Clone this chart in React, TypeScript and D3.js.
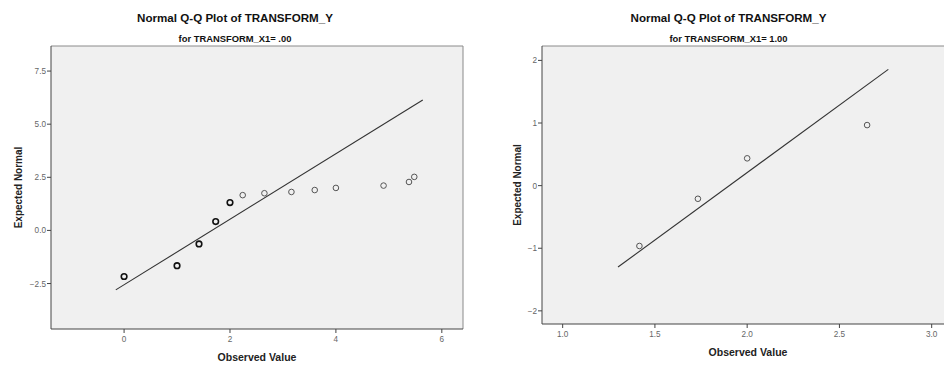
import React from 'react';
import * as d3 from 'd3';

const width = 944;
const height = 365;

// left panel: TRANSFORM_X1 = .00
const leftObserved = [0, 1.0, 1.415, 1.73, 2.0, 2.24, 2.65, 3.16, 3.6, 4.0, 4.9, 5.38, 5.48];
const leftExpected = [-2.17, -1.66, -0.635, 0.414, 1.31, 1.66, 1.75, 1.81, 1.9, 2.0, 2.11, 2.28, 2.52];
const leftHeavy = [true, true, true, true, true, false, false, false, false, false, false, false, false];
const leftLineX = [-0.157, 5.64];
const leftLineY = [-2.8, 6.14];
const leftXTicks = [0, 2, 4, 6];
const leftYTicks = [-2.5, 0, 2.5, 5, 7.5];

// right panel: TRANSFORM_X1 = 1.00
const rightObserved = [1.416, 1.733, 2.0, 2.65];
const rightExpected = [-0.964, -0.21, 0.436, 0.967];
const rightHeavy = [false, false, false, false];
const rightLineX = [1.3, 2.765];
const rightLineY = [-1.3, 1.856];
const rightXTicks = [1.0, 1.5, 2.0, 2.5, 3.0];
const rightYTicks = [-2, -1, 0, 1, 2];

const font = '"Liberation Sans", Arial, sans-serif';

type PanelProps = {
  frame: { x: number; y: number; w: number; h: number };
  xDomain: [number, number];
  yDomain: [number, number];
  observed: number[];
  expected: number[];
  heavy: boolean[];
  lineX: number[];
  lineY: number[];
  xTicks: number[];
  yTicks: number[];
  xFmt: (v: number) => string;
  yFmt: (v: number) => string;
  subtitle: string;
  titleX: number;
  xLabelX: number;
  xLabelY: number;
  yLabelX: number;
};

function Panel(p: PanelProps) {
  const { frame } = p;
  const x = d3.scaleLinear().domain(p.xDomain).range([frame.x, frame.x + frame.w]);
  const y = d3.scaleLinear().domain(p.yDomain).range([frame.y + frame.h, frame.y]);
  const line = d3
    .line<number>()
    .x((d) => x(d))
    .y((_, i) => y(p.lineY[i]));
  const bottom = frame.y + frame.h;

  return (
    <g>
      <text x={p.titleX} y={22} textAnchor="middle" fontFamily={font} fontWeight="bold" fontSize={11.6} fill="#111">
        Normal Q-Q Plot of TRANSFORM_Y
      </text>
      <text x={p.titleX} y={42} textAnchor="middle" fontFamily={font} fontWeight="bold" fontSize={9.4} fill="#111">
        {p.subtitle}
      </text>
      <rect x={frame.x} y={frame.y} width={frame.w} height={frame.h} fill="#f0f0f0" stroke="none" />
      {/* frame */}
      <line x1={frame.x} x2={frame.x + frame.w} y1={frame.y} y2={frame.y} stroke="#8a8a8a" strokeWidth={1} />
      <line x1={frame.x + frame.w} x2={frame.x + frame.w} y1={frame.y} y2={bottom} stroke="#8a8a8a" strokeWidth={1} />
      <line x1={frame.x} x2={frame.x} y1={frame.y} y2={bottom} stroke="#444" strokeWidth={1} />
      <line x1={frame.x} x2={frame.x + frame.w} y1={bottom} y2={bottom} stroke="#444" strokeWidth={1} />

      {p.yTicks.map((t) => (
        <g key={'y' + t}>
          <line x1={frame.x - 4} x2={frame.x} y1={y(t)} y2={y(t)} stroke="#444" />
          <text x={frame.x - 5} y={y(t) + 3} textAnchor="end" fontFamily={font} fontSize={8.2} fill="#666">
            {p.yFmt(t)}
          </text>
        </g>
      ))}
      {p.xTicks.map((t) => (
        <g key={'x' + t}>
          <line x1={x(t)} x2={x(t)} y1={bottom} y2={bottom + 4} stroke="#444" />
          <text x={x(t)} y={bottom + 13} textAnchor="middle" fontFamily={font} fontSize={8.2} fill="#666">
            {p.xFmt(t)}
          </text>
        </g>
      ))}

      <path d={line(p.lineX) || ''} fill="none" stroke="#333" strokeWidth={1.1} />

      {p.observed.map((v, i) => (
        <circle
          key={i}
          cx={x(v)}
          cy={y(p.expected[i])}
          r={2.8}
          fill="none"
          stroke={p.heavy[i] ? '#111' : '#555'}
          strokeWidth={p.heavy[i] ? 1.6 : 1}
        />
      ))}

      <text x={p.xLabelX} y={p.xLabelY} textAnchor="middle" fontFamily={font} fontWeight="bold" fontSize={10.5} fill="#222">
        Observed Value
      </text>
      <text
        transform={`translate(${p.yLabelX},${frame.y + frame.h / 2}) rotate(-90)`}
        textAnchor="middle"
        fontFamily={font}
        fontWeight="bold"
        fontSize={10}
        fill="#222"
      >
        Expected Normal
      </text>
    </g>
  );
}

export default function App() {
  const f1 = d3.format('.1f');
  const f0 = d3.format('d');
  return (
    <svg width={width} height={height} style={{ position: 'absolute', left: 0, top: 0, background: '#fff' }}>
      <Panel
        frame={{ x: 51, y: 46, w: 412, h: 283 }}
        xDomain={[-1.38, 6.4]}
        yDomain={[-4.64, 8.68]}
        observed={leftObserved}
        expected={leftExpected}
        heavy={leftHeavy}
        lineX={leftLineX}
        lineY={leftLineY}
        xTicks={leftXTicks}
        yTicks={leftYTicks}
        xFmt={f0}
        yFmt={f1}
        subtitle="for TRANSFORM_X1= .00"
        titleX={235}
        xLabelX={257}
        xLabelY={361}
        yLabelX={21.5}
      />
      <Panel
        frame={{ x: 542, y: 46, w: 412, h: 278 }}
        xDomain={[0.888, 3.121]}
        yDomain={[-2.21, 2.23]}
        observed={rightObserved}
        expected={rightExpected}
        heavy={rightHeavy}
        lineX={rightLineX}
        lineY={rightLineY}
        xTicks={rightXTicks}
        yTicks={rightYTicks}
        xFmt={f1}
        yFmt={f0}
        subtitle="for TRANSFORM_X1= 1.00"
        titleX={728.5}
        xLabelX={748}
        xLabelY={355.5}
        yLabelX={521}
      />
    </svg>
  );
}
